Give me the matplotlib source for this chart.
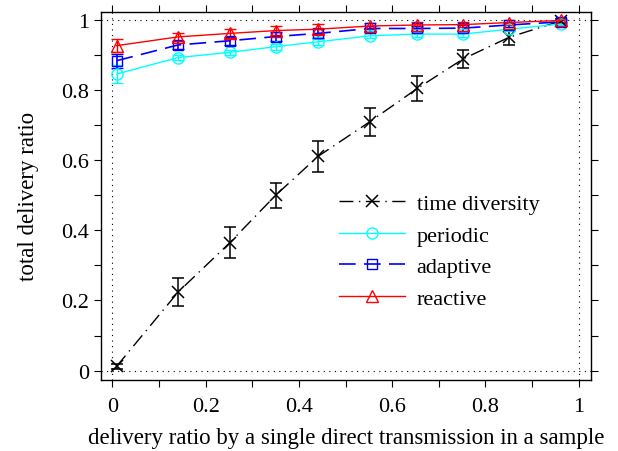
import matplotlib
matplotlib.use("Agg")
import matplotlib.pyplot as plt
from matplotlib.ticker import MultipleLocator

plt.rcParams['font.family'] = ['Liberation Serif', 'DejaVu Serif']

x = [0.009, 0.141, 0.252, 0.350, 0.441, 0.552, 0.654, 0.752, 0.851, 0.963]

time_div = [0.012, 0.224, 0.365, 0.500, 0.611, 0.710, 0.805, 0.889, 0.951, 0.998]
time_err = [0.008, 0.040, 0.045, 0.036, 0.045, 0.040, 0.035, 0.026, 0.022, 0.005]

periodic = [0.846, 0.893, 0.908, 0.924, 0.938, 0.955, 0.960, 0.960, 0.974, 0.989]
periodic_err = [0.025, 0.008, 0.008, 0.008, 0.008, 0.007, 0.007, 0.007, 0.006, 0.004]

adaptive = [0.884, 0.929, 0.941, 0.953, 0.962, 0.976, 0.976, 0.977, 0.986, 0.995]
adaptive_err = [0.020, 0.012, 0.012, 0.012, 0.012, 0.008, 0.008, 0.008, 0.006, 0.004]

reactive = [0.927, 0.952, 0.962, 0.970, 0.974, 0.983, 0.986, 0.987, 0.993, 0.999]
reactive_err = [0.019, 0.012, 0.012, 0.014, 0.015, 0.008, 0.008, 0.008, 0.006, 0.004]

fig = plt.figure(figsize=(6.18, 4.52), dpi=100)
ax = fig.add_axes([0.163, 0.157, 0.793, 0.815])

for v in (0, 1):
    ax.axhline(v, color='k', ls=(0, (1, 4)), lw=0.8, zorder=0)
    ax.axvline(v, color='k', ls=(0, (1, 4)), lw=0.8, zorder=0)

ax.errorbar(x, time_div, yerr=time_err, color='k', marker='x', ms=8, mew=1.1,
            lw=1.0, dashes=(10, 4, 1, 4), capsize=4, elinewidth=1.1,
            label='time diversity')
ax.errorbar(x, periodic, yerr=periodic_err, color='cyan', marker='o', ms=8,
            mfc='none', lw=1.0, capsize=4, label='periodic')
ax.errorbar(x, adaptive, yerr=adaptive_err, color='blue', marker='s', ms=7,
            mfc='none', lw=1.2, dashes=(10, 5), capsize=4, label='adaptive')
ax.errorbar(x, reactive, yerr=reactive_err, color='red', marker='^', ms=9,
            mfc='none', lw=1.0, capsize=4, label='reactive')

ax.set_xlim(-0.025, 1.026)
ax.set_ylim(-0.027, 1.024)
ax.xaxis.set_major_locator(MultipleLocator(0.2))
ax.xaxis.set_minor_locator(MultipleLocator(0.1))
ax.yaxis.set_major_locator(MultipleLocator(0.2))
ax.yaxis.set_minor_locator(MultipleLocator(0.1))
ax.set_xticklabels(['', '0', '0.2', '0.4', '0.6', '0.8', '1'])
ax.set_yticklabels(['', '0', '0.2', '0.4', '0.6', '0.8', '1'])
ax.tick_params(which='both', direction='out', length=5, width=0.8,
               top=True, right=True, labelsize=16)
ax.tick_params(axis='x', pad=7)
for s in ax.spines.values():
    s.set_linewidth(1.0)

ax.set_xlabel('delivery ratio by a single direct transmission in a sample',
              fontsize=16.5, labelpad=8)
ax.set_ylabel('total delivery ratio', fontsize=16.5, labelpad=16)

handles, labels = ax.get_legend_handles_labels()
handles = [h[0] for h in handles]
ax.legend(handles, labels, loc='center left', bbox_to_anchor=(0.445, 0.35),
          frameon=False, fontsize=16, handlelength=3.0, handletextpad=0.5,
          labelspacing=0.5)

fig.savefig('out.png', dpi=100)
